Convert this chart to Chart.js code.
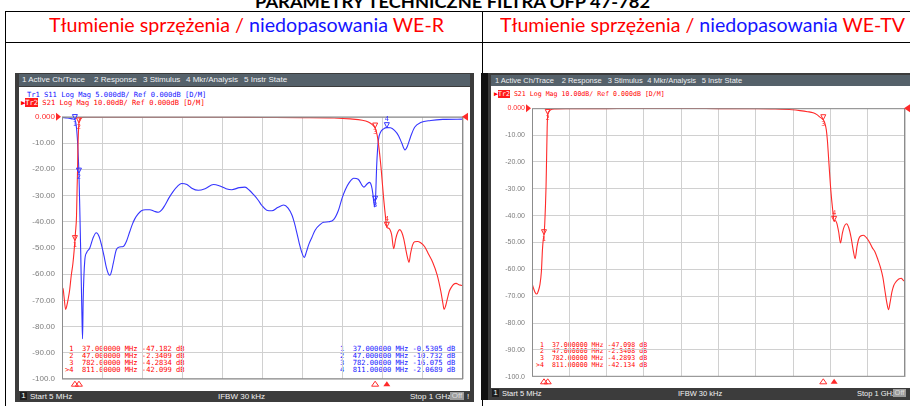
<!DOCTYPE html>
<html lang="pl">
  <head>
    <meta charset="UTF-8" />
    <title>Parametry techniczne filtra OFP 47-782</title>
    <script src="https://cdn.jsdelivr.net/npm/chart.js"></script>
    <style>
      body { margin: 0; background: #fff; }
      #page {
        position: relative;
        width: 910px;
        height: 406px;
        overflow: hidden;
        background: #fff;
        font-family: "Liberation Sans", Arial, sans-serif;
      }
      .abs { position: absolute; white-space: nowrap; }
      .line { position: absolute; background: #000; }
      .fit { display: inline-block; transform-origin: 0 0; font-family: Lato, "Liberation Sans", sans-serif; }
      .red { color: #ff0000; }
      .blue { color: #1414ff; }
      .frame { position: absolute; background: #3c3c3c; }
      .menu { position: absolute; background: #55616a; }
      .menu span { position: absolute; color: #eef0f2; line-height: 10px; }
      .panel { position: absolute; background: #fff; }
      .st { position: absolute; color: #f2f2f2; line-height: 9px; white-space: nowrap; }
      .box { position: absolute; text-align: center; line-height: 8px; }
      .mono {
        position: absolute;
        font-family: "DejaVu Sans Mono", monospace;
        white-space: pre;
      }
      .inv { background: #ff1a1a; color: #fff; }
      canvas { position: absolute; }
    </style>
  </head>
  <body>
    <div id="page">
      <!-- title (cut off at the top in the original) -->
      <div class="abs" style="left:255px; top:-7px; font-size:17px; line-height:17px; font-weight:bold;">
        <span class="fit" id="title">PARAMETRY TECHNICZNE FILTRA OFP 47-782</span>
      </div>

      <!-- table lines -->
      <div class="line" style="left:5px; top:11px; width:905px; height:1px;"></div>
      <div class="line" style="left:5px; top:42px; width:905px; height:1px;"></div>
      <div class="line" style="left:5px; top:11px; width:1px; height:395px;"></div>
      <div class="line" style="left:482px; top:11px; width:1px; height:395px;"></div>

      <!-- header cells -->
      <div class="abs" style="left:49px; top:15px; font-size:19px; line-height:19px;">
        <span class="fit" id="headL"><span class="red">Tłumienie sprzężenia /</span> <span class="blue">niedopasowania</span> <span class="red">WE-R</span></span>
      </div>
      <div class="abs" style="left:500px; top:15px; font-size:19px; line-height:19px;">
        <span class="fit" id="headR"><span class="red">Tłumienie sprzężenia /</span> <span class="blue">niedopasowania</span> <span class="red">WE-TV</span></span>
      </div>

      <!-- left analyser screenshot -->
      <div class="frame" style="left:15px; top:73px; width:459px; height:329px;"></div>
      <div class="menu" style="left:19px; top:74px; width:451px; height:12px; font-size:8px;">
        <span style="left:3px; top:1px;">1 Active Ch/Trace</span>
        <span style="left:75px; top:1px;">2 Response</span>
        <span style="left:124px; top:1px;">3 Stimulus</span>
        <span style="left:167px; top:1px;">4 Mkr/Analysis</span>
        <span style="left:225px; top:1px;">5 Instr State</span>
      </div>
      <div class="panel" style="left:19px; top:87px; width:451px; height:304px;"></div>
      <div class="box" style="left:20px; top:392px; width:7px; height:8px; background:#1e1e1e; color:#fff; font-size:8px;">1</div>
      <div class="st" style="left:30px; top:391.5px; font-size:8px;">Start 5 MHz</div>
      <div class="st" style="left:218px; top:391.5px; font-size:8px;">IFBW 30 kHz</div>
      <div class="st" style="left:410px; top:391.5px; font-size:8px;">Stop 1 GHz</div>
      <div class="box" style="left:450px; top:392px; width:14px; height:8px; background:#9c9c9c; color:#dcdcdc; font-size:8px;">Off</div>
      <div class="st" style="left:467px; top:391.5px; font-size:8px;">!</div>

      <div class="mono blue" style="left:27px; top:91px; font-size:7.1px; line-height:8px;">Tr1 S11 Log Mag 5.000dB/ Ref 0.000dB [D/M]</div>
      <div class="mono red" style="left:21px; top:98.7px; font-size:7.1px; line-height:8px;">▶<span class="inv">Tr2</span> S21 Log Mag 10.00dB/ Ref 0.000dB [D/M]</div>

      <div class="mono red" style="left:65px; top:344.7px; font-size:7.1px; line-height:7.2px;"> 1  37.000000 MHz -47.182 dB
 2  47.000000 MHz -2.3409 dB
 3  782.00000 MHz -4.2834 dB
>4  811.00000 MHz -42.099 dB</div>
      <div class="mono blue" style="left:335.7px; top:344.7px; font-size:7.1px; line-height:7.2px;"> 1  37.000000 MHz -0.5305 dB
 2  47.000000 MHz -10.732 dB
 3  782.00000 MHz -16.075 dB
 4  811.00000 MHz -2.0689 dB</div>

      <!-- right analyser screenshot -->
      <div class="frame" style="left:481px; top:73px; width:429px; height:327px;"></div>
      <div class="line" style="left:481px; top:73px; width:7px; height:327px; background:#111;"></div>
      <div class="menu" style="left:491px; top:75px; width:419px; height:11px; font-size:7.5px;">
        <span style="left:4px; top:0.5px;">1 Active Ch/Trace</span>
        <span style="left:70.7px; top:0.5px;">2 Response</span>
        <span style="left:116.7px; top:0.5px;">3 Stimulus</span>
        <span style="left:156.3px; top:0.5px;">4 Mkr/Analysis</span>
        <span style="left:210.7px; top:0.5px;">5 Instr State</span>
      </div>
      <div class="panel" style="left:491px; top:86px; width:419px; height:302px;"></div>
      <div class="box" style="left:492px; top:389px; width:7px; height:8px; background:#1e1e1e; color:#fff; font-size:7.5px;">1</div>
      <div class="st" style="left:502px; top:388.5px; font-size:7.5px;">Start 5 MHz</div>
      <div class="st" style="left:678px; top:388.5px; font-size:7.5px;">IFBW 30 kHz</div>
      <div class="st" style="left:857px; top:388.5px; font-size:7.5px;">Stop 1 GHz</div>
      <div class="box" style="left:893px; top:389px; width:13px; height:8px; background:#9c9c9c; color:#dcdcdc; font-size:7.5px;">Off</div>

      <div class="mono red" style="left:494px; top:90.5px; font-size:6.6px; line-height:7.6px;">▶<span class="inv">Tr2</span> S21 Log Mag 10.00dB/ Ref 0.000dB [D/M]</div>
      <div class="mono red" style="left:536px; top:341.6px; font-size:6.6px; line-height:6.8px;"> 1  37.000000 MHz -47.098 dB
 2  47.000000 MHz -2.3408 dB
 3  782.00000 MHz -4.2893 dB
>4  811.00000 MHz -42.134 dB</div>

      <canvas id="chartWeR" width="456" height="286" style="left:14px; top:105px;"></canvas>
      <canvas id="chartWeTV" width="418" height="291" style="left:492px; top:97px;"></canvas>
    </div>

    <script>
      // --- data (MHz / dB) ---

      // WE-R, S21 (red trace, 10 dB/div)
      const freqWeRS21 = [5, 7.5, 10, 14, 17, 20, 24, 28, 32, 35, 37, 38.5, 41, 42.5, 43.5, 44.5, 47, 49, 53,
        60, 100, 200, 300, 400, 500, 600, 680, 720, 750, 765, 775, 782, 787, 792, 797, 803, 808, 811,
        816, 823, 828, 833, 838, 843, 848, 853, 858, 862, 866, 870, 875, 880, 887, 895, 905, 915, 925,
        936, 945, 950, 953, 957, 961, 966, 971, 977, 983, 990, 995, 1000];
      const s21WeR = [-66.6, -65.4, -68.5, -73.4, -72, -69.7, -66, -60.4, -56, -51.2, -47.2, -44, -38, -27,
        -21, -12, -2.34, -0.9, -0.4, -0.2, -0.15, -0.15, -0.2, -0.2, -0.25, -0.3, -0.45, -0.8, -1.3, -2,
        -3, -4.28, -7, -12.5, -20, -31, -38.5, -42.1, -42.5, -45, -50.3, -46.5, -44, -43, -44, -46.5,
        -50.5, -53.5, -55.5, -52, -48.8, -47.6, -47.5, -48, -49.5, -52.5, -55.5, -60.3, -66.5, -71,
        -73.4, -72, -69.5, -66.5, -65, -63.8, -63.5, -64, -64.2, -64.4];

      // WE-R, S11 (blue trace, 5 dB/div)
      const freqWeRS11 = [5, 15, 25, 31, 37, 40, 43, 45, 47, 49, 51.5, 54.5, 56, 57.5, 61.5, 66, 74, 82, 90,
        97, 103, 110, 115, 120, 124, 128, 132, 140, 148, 157, 165, 173, 180, 186, 194, 202, 212, 223,
        234, 244, 252, 260, 270, 281, 292, 302, 315, 327, 343, 360, 381, 397, 412, 426, 445, 459, 470,
        480, 491, 501, 513, 526, 540, 555, 566, 576, 582, 588, 594, 599, 606, 612, 617, 625, 633, 646,
        654, 667, 679, 691, 700, 708, 718, 729, 740, 754, 762, 768, 773, 776, 779, 781, 783, 786, 790,
        795, 803, 811, 820, 830, 840, 848, 856, 862, 870, 880, 895, 920, 950, 1000];
      const s11WeR = [-0.1, -0.2, -0.3, -0.4, -0.53, -1.5, -4, -7, -10.7, -17, -26, -38, -42.3, -35, -27.4,
        -25.9, -25, -23.1, -22.1, -22.8, -24.4, -26.8, -28.7, -29.9, -30.2, -29.4, -28, -25.3, -24.8,
        -24.7, -23.7, -21.9, -20.4, -19.4, -18.5, -17.9, -17.7, -17.7, -18, -18.2, -17.8, -16.9, -15.5,
        -14.2, -13.2, -12.7, -12.9, -13.6, -14, -13.7, -12.9, -13.2, -13.7, -13.9, -13.5, -13.4, -14,
        -14.8, -15.8, -16.9, -17.8, -17.9, -17.3, -16.8, -17.4, -18.8, -20.3, -22.2, -24.2, -25.6,
        -26.8, -25.6, -24.4, -23, -21.6, -20.5, -20.1, -20, -19.6, -17.8, -15.5, -13.9, -12.5, -11.7,
        -11.9, -13.4, -12.8, -12.5, -13.2, -14.5, -16.5, -17.2, -15.5, -9, -4.5, -3, -2.3, -2.07, -2.1,
        -2.6, -3.6, -5, -6.3, -5.6, -3.8, -2, -1.1, -0.7, -0.5, -0.45];

      // WE-TV, S21 (red trace, 10 dB/div)
      const freqWeTV = [5, 9, 13, 18, 22, 26, 30, 33, 35, 37, 39, 41, 42.5, 44, 45.5, 47, 50, 55, 65, 100,
        200, 300, 400, 500, 600, 650, 700, 720, 740, 755, 765, 773, 778, 782, 786, 790, 793, 796, 799,
        802, 807, 811, 814, 818, 823, 828, 833, 838, 844, 850, 856, 862, 867, 872, 877, 883, 889, 897,
        905, 913, 920, 928, 935, 941, 946, 951, 956, 960, 965, 970, 975, 980, 985, 990, 995, 1000];
      const s21WeTV = [-65.2, -67, -68.5, -69.2, -68, -65.8, -60.9, -52.4, -49, -47.1, -43, -36, -29, -18.2,
        -7.2, -2.34, -1.2, -0.6, -0.3, -0.2, -0.15, -0.1, -0.1, -0.15, -0.2, -0.3, -0.6, -0.9, -1.3,
        -1.7, -2.4, -3.3, -3.8, -4.29, -5.5, -8, -12, -18.2, -24.5, -30.4, -37.7, -42.1, -41.8, -42.8,
        -46, -50.2, -46.5, -44, -43, -44.5, -48, -53, -56, -51.5, -48.5, -47.5, -47.3, -48.2, -49.8,
        -52, -53.5, -56.5, -59.5, -63, -67.5, -72, -75, -72.5, -68.5, -66, -64.8, -64, -63.5, -63.3,
        -64, -64.6];

      // markers 1..4 (frequency and read-out values)
      const markerFreqs = [37, 47, 782, 811];
      const mkS21WeR = [-47.182, -2.3409, -4.2834, -42.099];
      const mkS11WeR = [-0.5305, -10.732, -16.075, -2.0689];
      const mkS21WeTV = [-47.098, -2.3408, -4.2893, -42.134];

      const yTickLabels = ["0.000", "-10.00", "-20.00", "-30.00", "-40.00", "-50.00",
        "-60.00", "-70.00", "-80.00", "-90.00", "-100.0"];

      const RED = "#ff2a2a";
      const BLUE = "#3535ff";

      function toPoints(xs, ys) {
        return xs.map((f, i) => ({ x: f, y: ys[i] }));
      }

      // stretch a text so it takes the same width as in the picture
      function fitWidth(id, w) {
        const el = document.getElementById(id);
        const natural = el.getBoundingClientRect().width;
        el.style.transform = `scaleX(${w / natural})`;
      }
      fitWidth("title", 395);
      fitWidth("headL", 395);
      fitWidth("headR", 405);

      // frame, reference arrows and marker triangles of the analyser display
      const vnaDecor = {
        id: "vnaDecor",
        afterDatasetsDraw(chart, args, opts) {
          const { ctx, chartArea: a, scales } = chart;
          const x = scales.x;
          const y0 = scales.y.getPixelForValue(0);
          ctx.save();

          ctx.strokeStyle = "#8c8c8c";
          ctx.lineWidth = 1;
          ctx.strokeRect(a.left + 0.5, a.top + 0.5, a.right - a.left - 1, a.bottom - a.top - 1);

          // reference position arrows
          ctx.fillStyle = RED;
          ctx.beginPath();
          ctx.moveTo(a.left - 1, y0);
          ctx.lineTo(a.left - 6, y0 - 4);
          ctx.lineTo(a.left - 6, y0 + 4);
          ctx.fill();
          ctx.beginPath();
          ctx.moveTo(a.right - 1, y0);
          ctx.lineTo(a.right + 5, y0 - 4);
          ctx.lineTo(a.right + 5, y0 + 4);
          ctx.fill();

          ctx.font = `${opts.fontSize}px "DejaVu Sans Mono", monospace`;
          ctx.textAlign = "center";
          opts.traces.forEach((t) => {
            const ys = scales[t.axis];
            ctx.strokeStyle = t.color;
            ctx.fillStyle = t.color;
            t.values.forEach((v, i) => {
              const px = x.getPixelForValue(markerFreqs[i]);
              const py = ys.getPixelForValue(v);
              ctx.beginPath();
              ctx.moveTo(px, py);
              ctx.lineTo(px - 2.5, py - 5);
              ctx.lineTo(px + 2.5, py - 5);
              ctx.closePath();
              ctx.stroke();
              if (i < 3) {
                ctx.textBaseline = "top";
                ctx.fillText(String(i + 1), px, py + 1);
              } else {
                ctx.textBaseline = "bottom";
                ctx.fillText(String(i + 1), px, py - 5);
              }
            });
          });

          // marker positions under the grid (active trace)
          ctx.strokeStyle = RED;
          ctx.fillStyle = RED;
          markerFreqs.forEach((f, i) => {
            const px = x.getPixelForValue(f);
            const by = a.bottom + 2;
            ctx.beginPath();
            ctx.moveTo(px, by);
            ctx.lineTo(px - 3.5, by + 5);
            ctx.lineTo(px + 3.5, by + 5);
            ctx.closePath();
            if (i === 3) ctx.fill();
            else ctx.stroke();
          });
          ctx.restore();
        },
      };

      function makeChart(id, datasets, cfg) {
        const scales = {
          x: {
            type: "linear",
            min: 5,
            max: 1000,
            afterBuildTicks: (s) => {
              s.ticks = Array.from({ length: 11 }, (_, i) => ({ value: 5 + i * 99.5 }));
            },
            afterFit: (s) => { s.height = cfg.padBottom; },
            ticks: { display: false },
            grid: { color: "#d0d0d0", drawTicks: false },
            border: { display: false },
          },
          y: {
            min: -100,
            max: 0,
            afterFit: (s) => { s.width = cfg.yWidth; },
            ticks: {
              stepSize: 10,
              padding: 7,
              color: (c) => (c.tick.value === 0 ? RED : "#7c7c7c"),
              font: { family: "Liberation Sans", size: cfg.tickSize },
              callback: (v) => yTickLabels[Math.round(-v / 10)],
            },
            grid: { color: "#d0d0d0", drawTicks: false },
            border: { display: false },
          },
        };
        if (cfg.withS11) {
          scales.y2 = { display: false, min: -50, max: 0 };
        }
        return new Chart(document.getElementById(id), {
          type: "line",
          data: { datasets },
          options: {
            responsive: false,
            animation: false,
            devicePixelRatio: 1,
            layout: { padding: { top: 8, right: cfg.padRight, bottom: 0, left: 0 } },
            elements: {
              point: { radius: 0 },
              line: { borderWidth: 1.1, cubicInterpolationMode: "monotone" },
            },
            plugins: {
              legend: { display: false },
              tooltip: { enabled: false },
              vnaDecor: { traces: cfg.traces, fontSize: cfg.markSize },
            },
            scales,
          },
          plugins: [vnaDecor],
        });
      }

      makeChart(
        "chartWeR",
        [
          { label: "S21", data: toPoints(freqWeRS21, s21WeR), borderColor: RED, yAxisID: "y" },
          { label: "S11", data: toPoints(freqWeRS11, s11WeR), borderColor: BLUE, yAxisID: "y2" },
        ],
        {
          yWidth: 48, padRight: 7, padBottom: 8, tickSize: 8, markSize: 7, withS11: true,
          traces: [
            { axis: "y", values: mkS21WeR, color: RED },
            { axis: "y2", values: mkS11WeR, color: BLUE },
          ],
        }
      );

      makeChart(
        "chartWeTV",
        [{ label: "S21", data: toPoints(freqWeTV, s21WeTV), borderColor: RED, yAxisID: "y" }],
        {
          yWidth: 40, padRight: 5, padBottom: 8, tickSize: 7, markSize: 6.5, withS11: false,
          traces: [{ axis: "y", values: mkS21WeTV, color: RED }],
        }
      );
    </script>
  </body>
</html>
